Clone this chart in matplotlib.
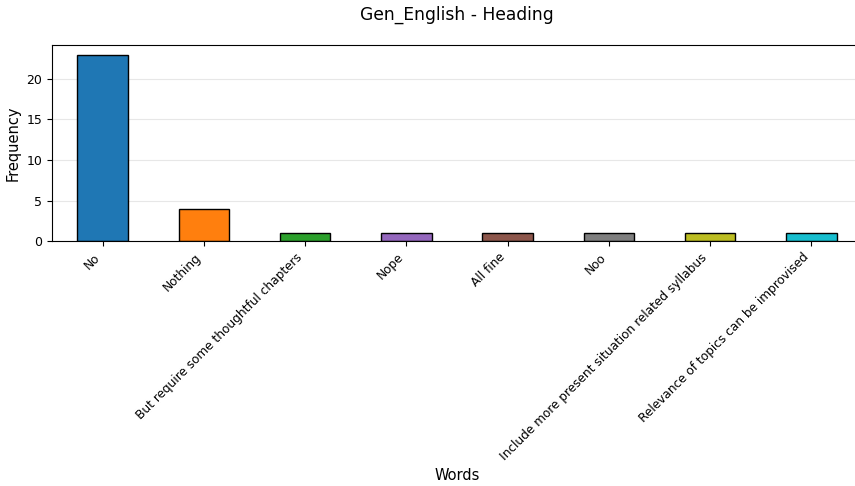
import matplotlib
matplotlib.use("Agg")
import matplotlib.pyplot as plt

words = ["No", "Nothing", "But require some thoughtful chapters", "Nope", "All fine",
         "Noo", "Include more present situation related syllabus",
         "Relevance of topics can be improvised"]
counts = [23, 4, 1, 1, 1, 1, 1, 1]
# palette skips red and pink in the original
palette = plt.cm.tab10.colors
colors = [palette[i] for i in (0, 1, 2, 4, 5, 7, 8, 9)]

fig = plt.figure(figsize=(8.55, 4.86), dpi=100)
ax = fig.add_axes([0.061, 0.504, 0.947, 0.403])

x = list(range(len(words)))
ax.bar(x, counts, width=0.5, color=colors, edgecolor="black")
ax.set_xlim(-0.5, len(words) - 0.5)
ax.set_ylim(0, max(counts) * 1.05)
ax.set_xticks(x)
ax.set_xticklabels(words, rotation=45, ha="right", fontsize=8.7)
ax.tick_params(axis="y", labelsize=9)
ax.yaxis.grid(True, alpha=0.3)
ax.set_axisbelow(True)

ax.set_xlabel("Words", fontsize=10.5)
ax.set_ylabel("Frequency", fontsize=10.5)
ax.set_title("Gen_English - Heading", fontsize=12.3, pad=18)

plt.savefig("out.png", dpi=100)
plt.close(fig)
